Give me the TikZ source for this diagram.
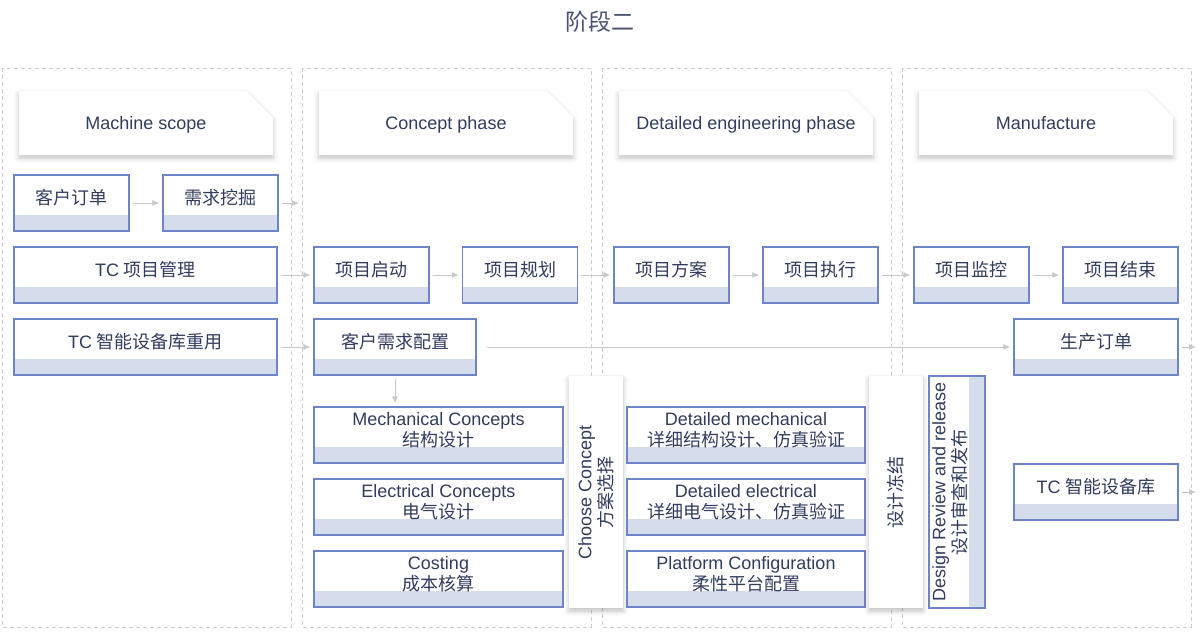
\documentclass[tikz,border=0pt]{standalone}
\usepackage{fontspec}
\setmainfont{Liberation Sans}
\newfontfamily\zhfont{Noto Sans CJK SC}
\newcommand{\zh}[1]{{\zhfont #1}}
\usetikzlibrary{arrows.meta,shapes.misc,shadows.blur}

\definecolor{ink}{HTML}{323D5E}
\definecolor{titleink}{HTML}{4A5372}
\definecolor{boxline}{HTML}{6F84C6}
\definecolor{bandfill}{HTML}{D5DCEC}
\definecolor{flow}{HTML}{C8C8C8}
\definecolor{frameline}{HTML}{CFCFCF}

\tikzset{
    boxtext/.style={font=\fontsize{18}{21}\selectfont, text=ink, align=center, inner sep=0pt},
    softshadow/.style={blur shadow={shadow xshift=0pt, shadow yshift=-3pt, shadow blur radius=5pt, shadow opacity=25}},
    procbox/.style={draw=boxline, line width=1.2pt, fill=white, minimum height=56pt, inner sep=0pt,
        path picture={\fill[bandfill] (path picture bounding box.south west) rectangle ([yshift=16pt]path picture bounding box.south east);},
        label={[boxtext, yshift=5pt]center:#1}},
    vprocbox/.style={draw=boxline, line width=1.2pt, fill=white, minimum width=56pt, minimum height=232pt, inner sep=0pt,
        path picture={\fill[bandfill] ([xshift=-16pt]path picture bounding box.south east) rectangle (path picture bounding box.north east);},
        label={[boxtext, xshift=-7pt, rotate=90]center:#1}},
    phasecard/.style={chamfered rectangle, chamfered rectangle corners=north east, chamfered rectangle xsep=20pt, chamfered rectangle ysep=20pt,
        fill=white, minimum width=254pt, minimum height=64pt, inner sep=0pt, softshadow, boxtext, text height=13pt, text depth=0pt},
    gatecard/.style={fill=white, minimum width=54pt, minimum height=232pt, inner sep=0pt, softshadow,
        label={[boxtext, rotate=90]center:#1}},
    flowarrow/.style={draw=flow, line width=1pt, -{Latex[length=7pt,width=6pt]}, shorten >=3pt, shorten <=3pt},
    colframe/.style={draw=frameline, line width=0.8pt, dash pattern=on 4pt off 3pt},
}

\begin{document}
\begin{tikzpicture}[x=1pt,y=-1pt]
    \useasboundingbox (0,0) rectangle (1200,635);

    \node[font=\fontsize{23}{26}\selectfont, text=titleink] (title) at (600,22) {\zh{阶段二}};

    \foreach \i in {0,...,3}
        \draw[colframe] (2+300*\i,68) rectangle (291+300*\i,627);

    \foreach \i/\nm/\txt in {0/scope/Machine scope, 1/concept/Concept phase, 2/detail/Detailed engineering phase, 3/manuf/Manufacture}
        \node[phasecard] (\nm) at (146+300*\i,123) {\txt};

    \node[procbox={\zh{客户订单}}, minimum width=115pt] (order) at (71.5,203) {};
    \node[procbox={\zh{需求挖掘}}, minimum width=115pt] (demand) at (220.5,203) {};
    \node[procbox={TC \zh{项目管理}}, minimum width=263pt] (tcpm) at (145.5,275) {};
    \node[procbox={TC \zh{智能设备库重用}}, minimum width=263pt] (reuse) at (145.5,347) {};

    \node[procbox={\zh{项目启动}}, minimum width=115pt] (start) at (371.5,275) {};
    \node[procbox={\zh{项目规划}}, minimum width=115pt] (plan) at (520,275) {};
    \node[procbox={\zh{客户需求配置}}, minimum width=162pt] (config) at (395,347) {};
    \node[procbox={Mechanical Concepts\\\zh{结构设计}}, minimum width=249pt] (mech) at (438.5,435) {};
    \node[procbox={Electrical Concepts\\\zh{电气设计}}, minimum width=249pt] (elec) at (438.5,507) {};
    \node[procbox={Costing\\\zh{成本核算}}, minimum width=249pt] (cost) at (438.5,579) {};
    \node[gatecard={Choose Concept\\\zh{方案选择}}] (choose) at (596,492) {};

    \node[procbox={\zh{项目方案}}, minimum width=115pt] (scheme) at (671.5,275) {};
    \node[procbox={\zh{项目执行}}, minimum width=115pt] (exec) at (820.5,275) {};
    \node[procbox={Detailed mechanical\\\zh{详细结构设计、仿真验证}}, minimum width=238pt] (dmech) at (746,435) {};
    \node[procbox={Detailed electrical\\\zh{详细电气设计、仿真验证}}, minimum width=238pt] (delec) at (746,507) {};
    \node[procbox={Platform Configuration\\\zh{柔性平台配置}}, minimum width=238pt] (platform) at (746,579) {};
    \node[gatecard={\zh{设计冻结}}] (freeze) at (896,492) {};
    \node[vprocbox={Design Review and release\\\zh{设计审查和发布}}] (review) at (957,492) {};

    \node[procbox={\zh{项目监控}}, minimum width=115pt] (monitor) at (971.5,275) {};
    \node[procbox={\zh{项目结束}}, minimum width=115pt] (finish) at (1120.5,275) {};
    \node[procbox={\zh{生产订单}}, minimum width=164pt] (porder) at (1096,347) {};
    \node[procbox={TC \zh{智能设备库}}, minimum width=164pt] (library) at (1096,492) {};

    \coordinate (demandout) at (302,203);
    \coordinate (porderout) at (1199,347);
    \coordinate (libraryout) at (1199,492);

    \draw[flowarrow] (order) -- (demand);
    \draw[flowarrow] (demand) -- (demandout);
    \draw[flowarrow] (tcpm) -- (start);
    \draw[flowarrow] (start) -- (plan);
    \draw[flowarrow] (plan) -- (scheme);
    \draw[flowarrow] (scheme) -- (exec);
    \draw[flowarrow] (exec) -- (monitor);
    \draw[flowarrow] (monitor) -- (finish);
    \draw[flowarrow] (reuse) -- (config);
    \draw[flowarrow, shorten <=10pt] (config) -- (porder);
    \draw[flowarrow] (config.south) -- (config.south |- mech.north);
    \draw[flowarrow] (porder) -- (porderout);
    \draw[flowarrow] (library) -- (libraryout);
\end{tikzpicture}
\end{document}
